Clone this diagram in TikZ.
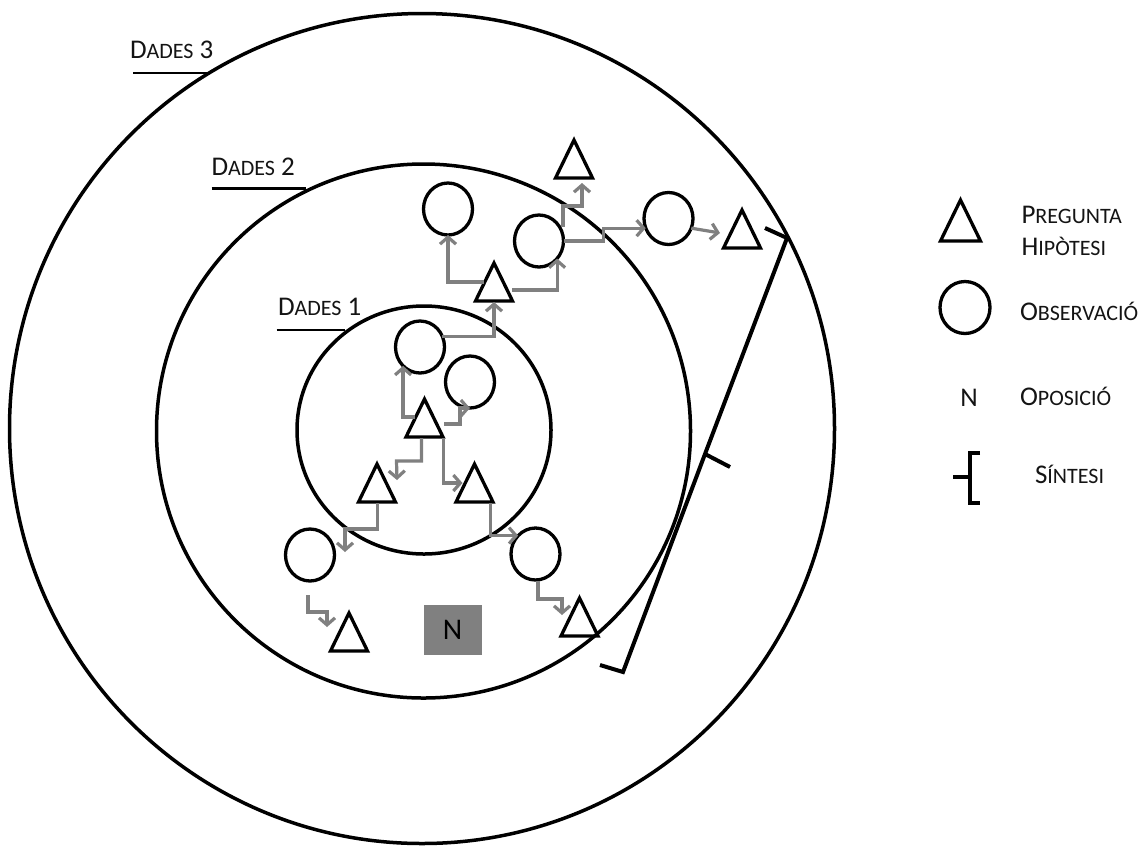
\documentclass[tikz,border=0pt]{standalone}
\usepackage{fontspec}
\setmainfont{Carlito}
\usetikzlibrary{shapes.geometric,arrows.meta}
\newcommand\Lsz{\fontsize{27}{30}\selectfont}
\newcommand\Ssz{\fontsize{22}{26}\selectfont}
\definecolor{arrowgray}{RGB}{128,128,128}
\definecolor{inkblack}{RGB}{20,20,20}
\begin{document}
\begin{tikzpicture}[x=1pt,y=-1pt,
  bigc/.style={draw, line width=3.5pt, ellipse, inner sep=0pt, outer sep=0pt},
  obs/.style={draw, line width=3.3pt, ellipse, inner sep=0pt, outer sep=0pt, minimum width=49pt, minimum height=52pt},
  tri/.style={draw, line width=3.3pt, isosceles triangle, isosceles triangle stretches, shape border rotate=90, minimum width=37pt, minimum height=38pt, inner sep=0pt, outer sep=0pt, anchor=lower side},
  flow/.style={draw=arrowgray, line width=3.2pt, -{Straight Barb[length=7pt,width=16pt]}},
  lbl/.style={anchor=base west, inner sep=0pt, outer sep=0pt, text=inkblack},
  uline/.style={line width=2.6pt},
  brace/.style={line width=4pt, line join=miter}]
\useasboundingbox (0,0) rectangle (1147,847);

% data circles
\node[bigc, minimum width=825pt, minimum height=830pt] (d3) at (422,428.5) {};
\node[bigc, minimum width=534pt, minimum height=534pt] (d2) at (423.5,431) {};
\node[bigc, minimum width=254pt, minimum height=248pt] (d1) at (424,430) {};

% labels
\node[lbl] (l3) at (130,58) {{\Lsz D}{\Ssz ADES}{\Lsz\ 3}};
\node[lbl] (l2) at (211.5,175) {{\Lsz D}{\Ssz ADES}{\Lsz\ 2}};
\node[lbl] (l1) at (278,315.5) {{\Lsz D}{\Ssz ADES}{\Lsz\ 1}};
\coordinate (u3a) at (133,73); \coordinate (u3b) at (210,73);
\coordinate (u2a) at (211.5,188.5); \coordinate (u2b) at (306,188.5);
\coordinate (u1a) at (276.5,330); \coordinate (u1b) at (345,330);
\draw[uline] (u3a) -- (u3b);
\draw[uline] (u2a) -- (u2b);
\draw[uline] (u1a) -- (u1b);

% triangles (question / hypothesis)
\node[tri] (ttop) at (574,178) {};
\node[tri] (tmid) at (494,301) {};
\node[tri] (tright) at (742,248) {};
\node[tri] (tc) at (424.5,437) {};
\node[tri] (tl) at (377,502) {};
\node[tri] (tr) at (474.5,502) {};
\node[tri] (tbl) at (349,651) {};
\node[tri] (tbr) at (579.5,636) {};

% observations
\node[obs] (ca) at (448,209) {};
\node[obs] (cb) at (539,241) {};
\node[obs] (cc) at (668.5,218.5) {};
\node[obs] (cd) at (420,347) {};
\node[obs] (ce) at (470,382) {};
\node[obs] (cf) at (310,555) {};
\node[obs] (cg) at (535.5,554) {};

% opposition
\node[fill=arrowgray, text=black, minimum width=58pt, minimum height=50pt, inner sep=0pt] (nbox) at (452.5,629.5) {\color{black}\fontsize{30}{32}\selectfont N};

% connectors
\draw[flow] ([shift={(-10,-20)}]tc.lower side) -| (cd.228);
\draw[flow] ([shift={(19.5,-13)}]tc.lower side) -- ++(16,0) |- (ce.south);
\draw[flow] ([shift={(-3,1)}]tc.lower side) |- ++(-25,23) -- ([shift={(20,-22)}]tl.lower side);
\draw[flow] ([shift={(19,1)}]tc.lower side) |- ([shift={(-12,-19)}]tr.lower side);
\draw[flow] ([shift={(0.5,1)}]tl.lower side) -- ++(0,26) -| ([shift={(35,-3)}]cf.center);
\draw[flow] ([shift={(16,1)}]tr.lower side) |- (cg.north west);
\draw[flow] ([shift={(-2,14)}]cf.south) |- ++(19,17) -- ([shift={(-22,-24)}]tbl.lower side);
\draw[flow] ([shift={(2.5,1)}]cg.south) -- ++(0,18) -| ([shift={(-17.5,-21)}]tbr.lower side);
\draw[flow] (cd.26) -| ([shift={(0,1)}]tmid.lower side);
\draw[flow] ([shift={(-10.5,-19)}]tmid.lower side) -| (ca.south);
\draw[flow] ([shift={(18,-11)}]tmid.lower side) -| (cb.316);
\draw[flow] (cb.east) -- ++(40,0) |- (cc.203);
\draw[flow] ([shift={(24,-14)}]cb.center) -- ++(0,-21) -| ([shift={(8,5)}]ttop.lower side);
\draw[flow] (cc.337) -- ([shift={(-22,-15)}]tright.lower side);

% synthesis bracket
\coordinate (s1) at (765,228);
\coordinate (s2) at (787,238);
\coordinate (s3) at (705,454);
\coordinate (s4) at (730,467);
\coordinate (s5) at (623,672);
\coordinate (s6) at (600,665);
\draw[brace] (s1) -- (s2) -- (s3) -- (s5) -- (s6);
\draw[brace] (s3) -- (s4);

% legend
\node[tri, minimum width=40pt, minimum height=41pt] (legt) at (960.5,241) {};
\node[lbl] (legt1) at (1021.5,223) {{\Lsz P}{\Ssz REGUNTA}};
\node[lbl] (legt2) at (1021.5,255.5) {{\Lsz H}{\Ssz IPÒTESI}};
\node[obs, minimum width=50pt, minimum height=52pt] (legc) at (965,307.5) {};
\node[lbl] (legc1) at (1020,320.5) {{\Lsz O}{\Ssz BSERVACIÓ}};
\node[inner sep=0pt, anchor=base, text=inkblack] (legn) at (969,406.5) {\Lsz N};
\node[lbl] (legn1) at (1020,405) {{\Lsz O}{\Ssz POSICIÓ}};
\coordinate (b1) at (980,453);
\coordinate (b2) at (970,453);
\coordinate (b3) at (970,503);
\coordinate (b4) at (980,503);
\coordinate (b5) at (970,477);
\coordinate (b6) at (953,477);
\draw[brace] (b1) -- (b2) -- (b3) -- (b4);
\draw[brace] (b5) -- (b6);
\node[lbl] (legs1) at (1035,483) {{\Lsz S}{\Ssz ÍNTESI}};
\end{tikzpicture}
\end{document}
